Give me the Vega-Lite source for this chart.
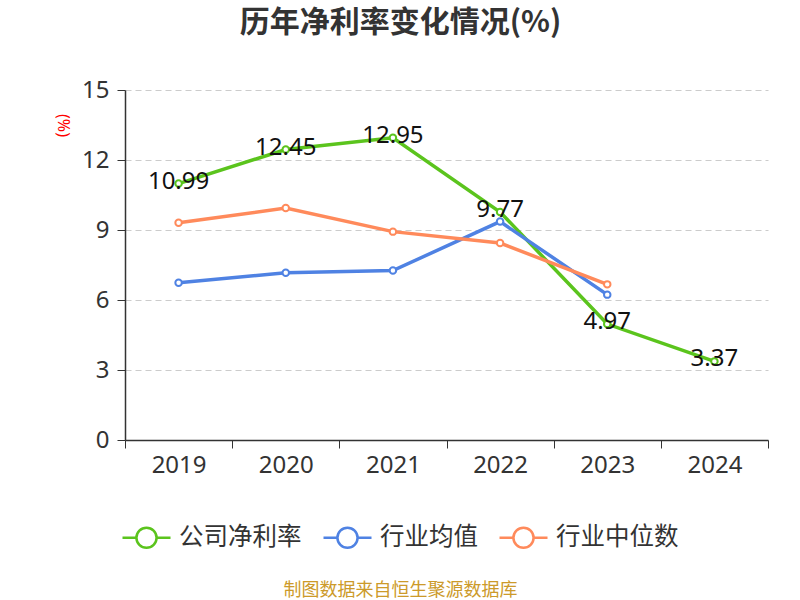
{
  "$schema": "https://vega.github.io/schema/vega-lite/v6.json",
  "width": 643,
  "height": 350,
  "autosize": "none",
  "padding": {"left": 125, "top": 90, "right": 32, "bottom": 160},
  "background": "white",
  "title": {
    "text": "历年净利率变化情况(%)",
    "fontSize": 30,
    "fontWeight": "bold",
    "color": "#333333",
    "font": "Noto Sans CJK SC",
    "anchor": "middle",
    "dx": -46,
    "offset": 40
  },
  "data": {
    "values": [
      {"year": "2019", "series": "公司净利率", "value": 10.99},
      {"year": "2020", "series": "公司净利率", "value": 12.45},
      {"year": "2021", "series": "公司净利率", "value": 12.95},
      {"year": "2022", "series": "公司净利率", "value": 9.77},
      {"year": "2023", "series": "公司净利率", "value": 4.97},
      {"year": "2024", "series": "公司净利率", "value": 3.37},
      {"year": "2019", "series": "行业均值", "value": 6.74},
      {"year": "2020", "series": "行业均值", "value": 7.17},
      {"year": "2021", "series": "行业均值", "value": 7.26},
      {"year": "2022", "series": "行业均值", "value": 9.36},
      {"year": "2023", "series": "行业均值", "value": 6.23},
      {"year": "2019", "series": "行业中位数", "value": 9.31},
      {"year": "2020", "series": "行业中位数", "value": 9.94},
      {"year": "2021", "series": "行业中位数", "value": 8.93},
      {"year": "2022", "series": "行业中位数", "value": 8.44},
      {"year": "2023", "series": "行业中位数", "value": 6.67}
    ]
  },
  "encoding": {
    "x": {
      "field": "year",
      "type": "ordinal",
      "bandPosition": 0.5,
      "scale": {"type": "band", "paddingInner": 0, "paddingOuter": 0},
      "title": "制图数据来自恒生聚源数据库",
      "axis": {
        "labelAngle": 0,
        "labelFontSize": 24,
        "labelColor": "#333333",
        "labelPadding": 5,
        "tickBand": "extent",
        "tickSize": 8,
        "tickColor": "#333333",
        "domainColor": "#333333",
        "domainWidth": 1.5,
        "grid": false,
        "titleColor": "#CC9A2A",
        "titleFontSize": 18,
        "titleFontWeight": "normal",
        "titlePadding": 104,
        "titleX": 275
      }
    },
    "y": {
      "field": "value",
      "type": "quantitative",
      "scale": {"domain": [0, 15]},
      "title": "(%)",
      "axis": {
        "values": [0, 3, 6, 9, 12, 15],
        "labelFontSize": 24,
        "labelColor": "#333333",
        "labelPadding": 8,
        "tickSize": 8,
        "tickColor": "#333333",
        "domainColor": "#333333",
        "domainWidth": 1.5,
        "gridColor": "#cccccc",
        "gridDash": [6, 4],
        "gridWidth": 1.2,
        "titleColor": "red",
        "titleFontSize": 16,
        "titleFontWeight": "normal",
        "titleAngle": 90,
        "titleAlign": "center",
        "titleBaseline": "middle",
        "titleX": -63,
        "titleY": 35
      }
    },
    "color": {
      "field": "series",
      "type": "nominal",
      "scale": {
        "domain": ["公司净利率", "行业均值", "行业中位数"],
        "range": ["#5BC41D", "#4F82E3", "#FF8A5B"]
      },
      "legend": {
        "title": null,
        "orient": "none",
        "direction": "horizontal",
        "legendX": -4,
        "legendY": 422,
        "symbolType": "M-1,0L-0.42,0M0.42,0L1,0M0.42,0A0.42,0.42,0,1,1,-0.42,0A0.42,0.42,0,1,1,0.42,0",
        "symbolSize": 2304,
        "symbolStrokeWidth": 2.5,
        "symbolFillColor": "white",
        "labelFontSize": 24.5,
        "labelColor": "#333333",
        "labelOffset": 7,
        "columnPadding": 16
      }
    }
  },
  "layer": [
    {
      "mark": {"type": "line", "strokeWidth": 3.5}
    },
    {
      "mark": {"type": "point", "filled": false, "fill": "white", "fillOpacity": 1, "opacity": 1, "size": 42, "strokeWidth": 2}
    },
    {
      "transform": [{"filter": "datum.series === '公司净利率'"}],
      "mark": {"type": "text", "fontSize": 24, "color": "#111111", "dy": -2},
      "encoding": {
        "text": {"field": "value", "type": "quantitative", "format": ".2f"},
        "color": {"value": "#111111"}
      }
    }
  ],
  "config": {
    "font": "Noto Sans, Noto Sans CJK SC",
    "view": {"stroke": null}
  }
}
